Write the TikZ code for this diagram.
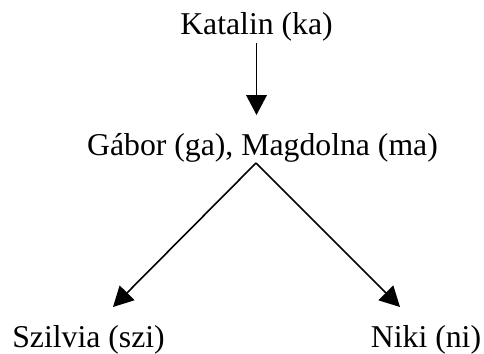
\documentclass[tikz,border=0pt]{standalone}
\usepackage{fontspec}
\setmainfont{Liberation Serif}
\usetikzlibrary{arrows.meta,calc}
\begin{document}
\begin{tikzpicture}[x=0.75pt,y=-0.75pt,
  lbl/.style={anchor=base,inner sep=0pt,font=\fontsize{23.8pt}{28pt}\selectfont},
  arr/.style={line width=1.2pt,-{Triangle[length=15pt,width=15.5pt]}}]
\useasboundingbox (0,0) rectangle (484,353);
\node[lbl] (ka) at (256.5,35) {Katalin (ka)};
\node[lbl] (ga) at (262.5,155) {Gábor (ga), Magdolna (ma)};
\node[lbl] (szi) at (88.5,347) {Szilvia (szi)};
\node[lbl] (ni) at (426,347) {Niki (ni)};
\draw[arr] ($(ka.base)+(0,8)$) -- ($(ga.base)+(-6,-40)$);
\draw[arr] ($(ga.base)+(-6.5,8)$) -- ($(szi.base)+(24.5,-40)$);
\draw[arr] ($(ga.base)+(-6.5,8)$) -- ($(ni.base)+(-26,-40)$);
\end{tikzpicture}
\end{document}
